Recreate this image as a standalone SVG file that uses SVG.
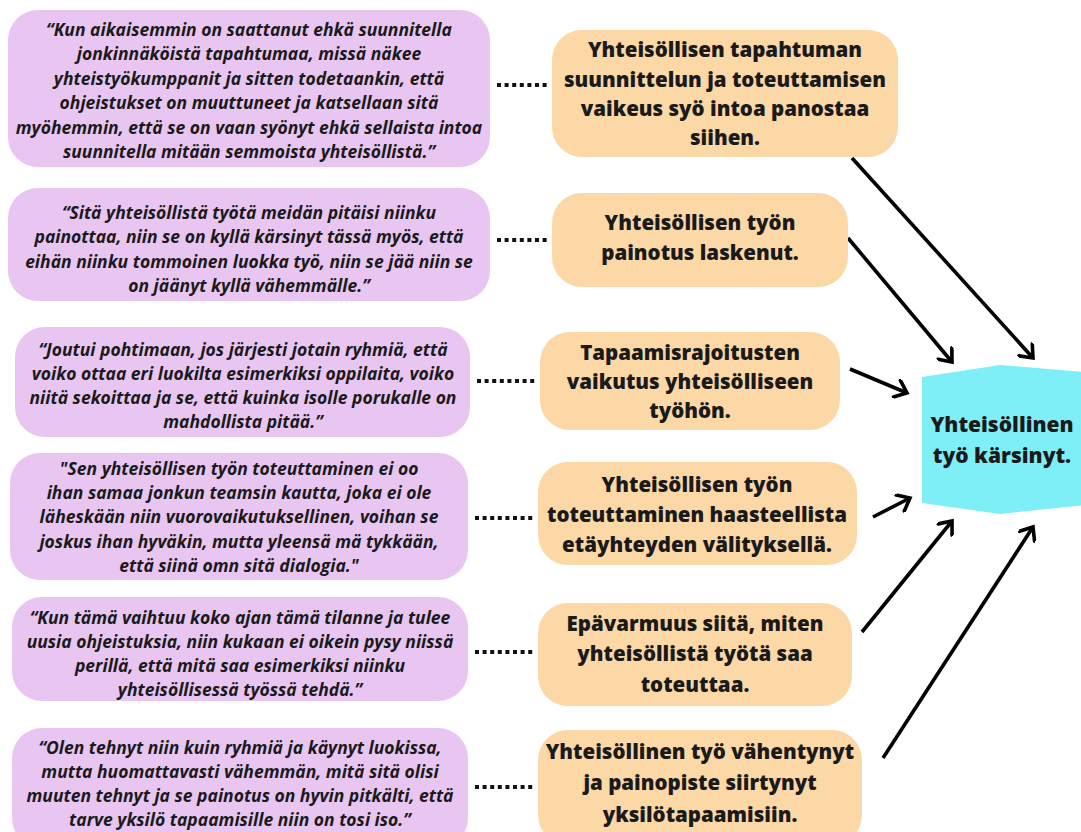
<svg xmlns="http://www.w3.org/2000/svg" width="1081" height="832" viewBox="0 0 1081 832">
<style>
.bg{fill:#ffffff}
.quote{fill:#E8C6F1}
.theme{fill:#FCD8A6}
.core{fill:#7FEFF7}
.qt{font-family:"Open Sans","Liberation Sans",sans-serif;font-weight:bold;font-style:italic;font-size:17.5px;fill:#1a1a1a;text-anchor:middle}
.tt{font-family:"Open Sans","Liberation Sans",sans-serif;font-weight:800;font-size:20.5px;fill:#1a1a1a;text-anchor:middle}
.ct{font-family:"Open Sans","Liberation Sans",sans-serif;font-weight:800;font-size:21px;fill:#1a1a1a;text-anchor:middle}
.dot{stroke:#111;stroke-width:4;stroke-dasharray:4 3.6;fill:none}
.arr{stroke:#000;stroke-width:3.6;fill:none;marker-end:url(#ah)}
</style>
<defs>
<marker id="ah" viewBox="0 0 20 20" refX="17" refY="10" markerWidth="20" markerHeight="20" markerUnits="userSpaceOnUse" orient="auto">
<path d="M6,1 L17,10 L6,19" stroke="#000" stroke-width="3.6" fill="none" stroke-linecap="round" stroke-linejoin="miter"/>
</marker>
</defs>
<rect class="bg" x="0" y="0" width="1081" height="832"/>

<g id="connectors">
<line class="dot" x1="497" y1="85" x2="549" y2="85"/>
<line class="dot" x1="497" y1="240" x2="549" y2="240"/>
<line class="dot" x1="477" y1="381" x2="537" y2="381"/>
<line class="dot" x1="475" y1="518" x2="535" y2="518"/>
<line class="dot" x1="475" y1="652" x2="535" y2="652"/>
<line class="dot" x1="475" y1="787" x2="535" y2="787"/>
<line class="arr" x1="852" y1="158" x2="1033" y2="358"/>
<line class="arr" x1="848" y1="238" x2="952" y2="362"/>
<line class="arr" x1="850" y1="369" x2="907" y2="393"/>
<line class="arr" x1="873" y1="517" x2="910" y2="498"/>
<line class="arr" x1="862" y1="632" x2="952" y2="521"/>
<line class="arr" x1="883" y1="758" x2="1033" y2="527"/>
</g>

<g id="q1">
<rect class="quote" x="8" y="10" width="482" height="157" rx="30"/>
<text class="qt"><tspan x="249" y="35.5">“Kun aikaisemmin on saattanut ehkä suunnitella</tspan><tspan x="249" y="60">jonkinnäköistä tapahtumaa, missä näkee</tspan><tspan x="249" y="84.5">yhteistyökumppanit ja sitten todetaankin, että</tspan><tspan x="249" y="109">ohjeistukset on muuttuneet ja katsellaan sitä</tspan><tspan x="249" y="133.5">myöhemmin, että se on vaan syönyt ehkä sellaista intoa</tspan><tspan x="249" y="158">suunnitella mitään semmoista yhteisöllistä.”</tspan></text>
</g>
<g id="q2">
<rect class="quote" x="8" y="188" width="482" height="113" rx="30"/>
<text class="qt"><tspan x="249" y="218.5">“Sitä yhteisöllistä työtä meidän pitäisi niinku</tspan><tspan x="249" y="243">painottaa, niin se on kyllä kärsinyt tässä myös, että</tspan><tspan x="249" y="267.5">eihän niinku tommoinen luokka työ, niin se jää niin se</tspan><tspan x="249" y="292">on jäänyt kyllä vähemmälle.”</tspan></text>
</g>
<g id="q3">
<rect class="quote" x="15" y="327" width="455" height="110" rx="30"/>
<text class="qt"><tspan x="243" y="355.5">“Joutui pohtimaan, jos järjesti jotain ryhmiä, että</tspan><tspan x="243" y="379.5">voiko ottaa eri luokilta esimerkiksi oppilaita, voiko</tspan><tspan x="243" y="403.5">niitä sekoittaa ja se, että kuinka isolle porukalle on</tspan><tspan x="243" y="427.5">mahdollista pitää.”</tspan></text>
</g>
<g id="q4">
<rect class="quote" x="10" y="453" width="458" height="127" rx="30"/>
<text class="qt"><tspan x="239" y="474.5">"Sen yhteisöllisen työn toteuttaminen ei oo</tspan><tspan x="239" y="498.5">ihan samaa jonkun teamsin kautta, joka ei ole</tspan><tspan x="239" y="523">läheskään niin vuorovaikutuksellinen, voihan se</tspan><tspan x="239" y="547.5">joskus ihan hyväkin, mutta yleensä mä tykkään,</tspan><tspan x="239" y="571.5">että siinä  omn sitä dialogia."</tspan></text>
</g>
<g id="q5">
<rect class="quote" x="12" y="597" width="456" height="104" rx="30"/>
<text class="qt"><tspan x="240" y="623.5">“Kun tämä vaihtuu koko ajan tämä tilanne ja tulee</tspan><tspan x="240" y="647.5">uusia ohjeistuksia, niin kukaan ei oikein pysy niissä</tspan><tspan x="240" y="671.5">perillä, että mitä saa esimerkiksi niinku</tspan><tspan x="240" y="695.5">yhteisöllisessä työssä tehdä.”</tspan></text>
</g>
<g id="q6">
<rect class="quote" x="12" y="728" width="456" height="120" rx="30"/>
<text class="qt"><tspan x="240" y="753.5">“Olen tehnyt niin kuin ryhmiä ja käynyt luokissa,</tspan><tspan x="240" y="777.5">mutta huomattavasti vähemmän, mitä sitä olisi</tspan><tspan x="240" y="801.5">muuten tehnyt ja se painotus on hyvin pitkälti, että</tspan><tspan x="240" y="825.5">tarve yksilö tapaamisille niin on tosi iso.”</tspan></text>
</g>

<g id="t1">
<rect class="theme" x="552" y="30" width="346" height="127" rx="30"/>
<text class="tt"><tspan x="725" y="57">Yhteisöllisen tapahtuman</tspan><tspan x="725" y="86.5">suunnittelun ja toteuttamisen</tspan><tspan x="725" y="115.5">vaikeus syö intoa panostaa</tspan><tspan x="725" y="144.5">siihen.</tspan></text>
</g>
<g id="t2">
<rect class="theme" x="552" y="193" width="296" height="94" rx="30"/>
<text class="tt"><tspan x="700" y="230">Yhteisöllisen työn</tspan><tspan x="700" y="260">painotus laskenut.</tspan></text>
</g>
<g id="t3">
<rect class="theme" x="540" y="332" width="300" height="98" rx="30"/>
<text class="tt"><tspan x="690" y="360">Tapaamisrajoitusten</tspan><tspan x="690" y="389">vaikutus yhteisölliseen</tspan><tspan x="690" y="418">työhön.</tspan></text>
</g>
<g id="t4">
<rect class="theme" x="538" y="462" width="319" height="103" rx="30"/>
<text class="tt"><tspan x="697" y="492">Yhteisöllisen työn</tspan><tspan x="697" y="522">toteuttaminen haasteellista</tspan><tspan x="697" y="552">etäyhteyden välityksellä.</tspan></text>
</g>
<g id="t5">
<rect class="theme" x="538" y="603" width="314" height="103" rx="30"/>
<text class="tt"><tspan x="695" y="631">Epävarmuus siitä, miten</tspan><tspan x="695" y="661">yhteisöllistä työtä saa</tspan><tspan x="695" y="692">toteuttaa.</tspan></text>
</g>
<g id="t6">
<rect class="theme" x="538" y="730" width="324" height="115" rx="30"/>
<text class="tt"><tspan x="700" y="759">Yhteisöllinen työ vähentynyt</tspan><tspan x="700" y="790">ja painopiste siirtynyt</tspan><tspan x="700" y="822">yksilötapaamisiin.</tspan></text>
</g>

<g id="core">
<polygon class="core" points="922,377 1000,365 1085,372 1085,505 1000,514 922,503"/>
<text class="ct"><tspan x="1002" y="432">Yhteisöllinen</tspan><tspan x="1002" y="463">työ kärsinyt.</tspan></text>
</g>
</svg>
